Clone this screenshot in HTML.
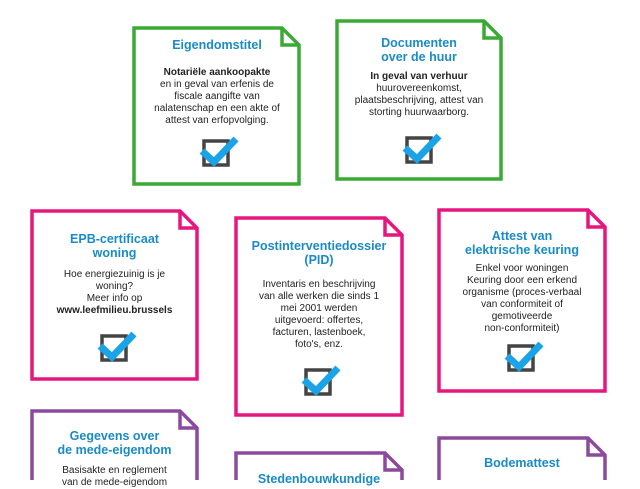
<!DOCTYPE html>
<html><head><meta charset="utf-8"><style>
body{margin:0;width:640px;height:480px;overflow:hidden;background:#fff;font-family:"Liberation Sans",sans-serif;position:relative}
.t{position:absolute;text-align:center;color:#1a8bc6;font-weight:bold;font-size:12.5px;line-height:14px}
.b{position:absolute;text-align:center;color:#222;font-size:10px;line-height:12px}
.b b{font-weight:bold}
</style></head><body>
<svg width="640" height="480" style="position:absolute;left:0;top:0">
<defs>
<g id="chk"><rect x="2" y="6" width="24" height="24" fill="none" stroke="#444" stroke-width="3.5"/><path d="M0 16 L12 27 L34 4" fill="none" stroke="#1aa3e6" stroke-width="7"/></g>
</defs>
<g fill="#fff" stroke-width="3.5" stroke-linejoin="miter">
<g stroke="#3aaa35">
<path d="M134 28 H282 L299 45 V184 H134 Z"/><path d="M282 28 V45 H299" fill="none"/>
<path d="M337 21 H484 L501 38 V179 H337 Z"/><path d="M484 21 V38 H501" fill="none"/>
</g>
<g stroke="#e5177f">
<path d="M32 211 H180 L197 228 V379 H32 Z"/><path d="M180 211 V228 H197" fill="none"/>
<path d="M236 218 H385 L402 235 V415 H236 Z"/><path d="M385 218 V235 H402" fill="none"/>
<path d="M439 210 H588 L605 227 V391 H439 Z"/><path d="M588 210 V227 H605" fill="none"/>
</g>
<g stroke="#8b4a9c">
<path d="M32 411 H180 L197 428 V490 H32 Z"/><path d="M180 411 V428 H197" fill="none"/>
<path d="M236 453 H385 L402 470 V490 H236 Z"/><path d="M385 453 V470 H402" fill="none"/>
<path d="M439 438 H588 L605 455 V490 H439 Z"/><path d="M588 438 V455 H605" fill="none"/>
</g>
</g>
<use href="#chk" x="202" y="135"/>
<use href="#chk" x="405" y="132"/>
<use href="#chk" x="100" y="330"/>
<use href="#chk" x="304" y="364"/>
<use href="#chk" x="507" y="340"/>
</svg>

<div class="t" style="left:134px;width:166px;top:38px">Eigendomstitel</div>
<div class="b" style="left:130px;width:174px;top:67px"><b>Notariële aankoopakte</b><br>en in geval van erfenis de<br>fiscale aangifte van<br>nalatenschap en een akte of<br>attest van erfopvolging.</div>

<div class="t" style="left:337px;width:164px;top:36px">Documenten<br>over de huur</div>
<div class="b" style="left:332px;width:174px;top:71px"><b>In geval van verhuur</b><br>huurovereenkomst,<br>plaatsbeschrijving, attest van<br>storting huurwaarborg.</div>

<div class="t" style="left:32px;width:165px;top:232px">EPB-certificaat<br>woning</div>
<div class="b" style="left:30px;width:169px;top:269px">Hoe energiezuinig is je<br>woning?<br>Meer info op<br><b>www.leefmilieu.brussels</b></div>

<div class="t" style="left:236px;width:166px;top:239px">Postinterventiedossier<br>(PID)</div>
<div class="b" style="left:234px;width:170px;top:279px">Inventaris en beschrijving<br>van alle werken die sinds 1<br>mei 2001 werden<br>uitgevoerd: offertes,<br>facturen, lastenboek,<br>foto's, enz.</div>

<div class="t" style="left:439px;width:166px;top:229px">Attest van<br>elektrische keuring</div>
<div class="b" style="left:435px;width:174px;top:263px">Enkel voor woningen<br>Keuring door een erkend<br>organisme (proces-verbaal<br>van conformiteit of<br>gemotiveerde<br>non-conformiteit)</div>

<div class="t" style="left:32px;width:165px;top:429px">Gegevens over<br>de mede-eigendom</div>
<div class="b" style="left:30px;width:169px;top:465px">Basisakte en reglement<br>van de mede-eigendom</div>

<div class="t" style="left:236px;width:166px;top:472px">Stedenbouwkundige</div>

<div class="t" style="left:439px;width:166px;top:456px">Bodemattest</div>
</body></html>
